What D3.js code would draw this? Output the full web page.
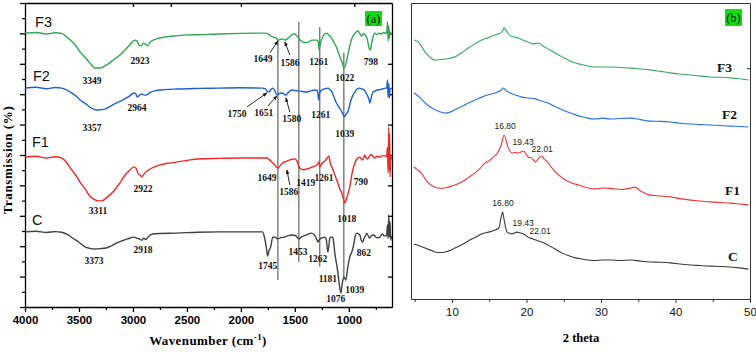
<!DOCTYPE html>
<html><head><meta charset="utf-8">
<script src="https://cdn.jsdelivr.net/npm/d3@7"></script>
<style>body{margin:0;background:#fff} svg{display:block}</style>
</head><body><svg id="c" width="756" height="352"></svg>
<script>
// ---------- FTIR (panel a): [wavenumber cm-1, transmission a.u.] ----------
const ftirF3 = [[4000,90.1],[3900,90.3],[3800,89.8],[3720,90.2],[3660,90.0],[3620,89.0],[3580,87.8],[3530,86.0],[3490,83.9],[3440,82.0],[3400,80.3],[3350,78.6],[3300,78.6],[3260,79.3],[3215,80.3],[3170,81.6],[3120,82.9],[3075,84.5],[3030,86.2],[2985,87.8],[2960,87.5],[2945,86.2],[2925,85.9],[2905,86.8],[2885,86.5],[2865,85.9],[2840,87.2],[2780,88.2],[2700,88.8],[2600,89.2],[2500,89.5],[2350,89.6],[2200,89.8],[2000,90.0],[1800,90.1],[1760,90.0],[1730,89.3],[1700,88.8],[1675,88.5],[1650,87.8],[1620,88.2],[1590,87.8],[1560,88.5],[1530,89.5],[1500,89.8],[1480,89.1],[1460,88.2],[1430,87.2],[1400,87.0],[1370,87.2],[1340,87.8],[1300,87.8],[1285,87.5],[1275,84.5],[1265,86.5],[1250,88.2],[1225,89.8],[1205,90.1],[1185,89.4],[1165,88.8],[1150,87.8],[1135,86.8],[1115,85.5],[1095,83.5],[1075,81.6],[1060,80.3],[1045,78.6],[1030,79.6],[1015,82.0],[1000,84.5],[985,86.8],[970,88.5],[955,89.5],[935,90.3],[915,90.8],[895,89.8],[880,89.1],[865,90.0],[850,89.5],[835,88.8],[820,86.5],[810,85.0],[800,84.5],[790,86.5],[775,89.0],[760,90.1],[740,89.6],[720,90.1],[700,89.8],[680,90.3],[660,90.0],[648,90.5],[642,93.8],[636,87.5],[630,92.5],[624,88.5],[618,90.5],[610,90.0],[602,90.2]];
const ftirF2 = [[4000,72.0],[3900,72.3],[3800,71.8],[3720,72.2],[3660,72.0],[3620,71.5],[3580,70.7],[3530,69.5],[3490,68.1],[3440,66.9],[3400,65.8],[3340,64.8],[3300,64.9],[3260,65.1],[3215,65.9],[3170,66.8],[3120,67.6],[3080,68.4],[3035,69.3],[2990,70.4],[2975,70.2],[2960,69.1],[2940,69.6],[2920,70.1],[2900,69.8],[2880,69.7],[2840,70.6],[2800,71.1],[2700,71.5],[2600,71.7],[2400,71.9],[2200,72.0],[2000,72.1],[1800,72.0],[1775,71.8],[1755,70.9],[1740,70.7],[1720,71.6],[1705,72.0],[1685,71.2],[1667,69.7],[1650,70.1],[1620,70.4],[1600,70.0],[1583,69.7],[1560,70.6],[1530,71.4],[1500,71.2],[1465,71.1],[1430,70.9],[1400,70.7],[1360,71.0],[1320,71.4],[1290,71.2],[1280,68.1],[1270,70.5],[1250,71.4],[1220,71.8],[1195,72.0],[1175,71.5],[1155,70.7],[1135,68.8],[1115,67.1],[1095,66.0],[1075,64.8],[1055,63.5],[1040,62.5],[1025,63.5],[1010,64.1],[995,66.0],[980,68.1],[960,69.8],[944,70.7],[925,71.6],[900,72.0],[880,71.7],[860,71.4],[845,70.8],[830,69.7],[815,68.5],[805,67.1],[795,68.5],[780,70.4],[760,71.0],[735,71.4],[710,71.5],[685,71.8],[660,72.0],[648,72.0],[642,74.7],[636,69.0],[630,73.5],[624,68.8],[618,71.5],[610,72.0],[602,71.8]];
const ftirF1 = [[4000,49.3],[3900,49.6],[3800,49.0],[3720,49.4],[3660,49.0],[3620,47.8],[3580,45.7],[3530,43.4],[3490,41.1],[3440,38.7],[3400,36.5],[3360,35.4],[3320,34.9],[3280,35.0],[3260,35.5],[3215,36.8],[3170,38.5],[3120,40.8],[3080,43.1],[3035,44.8],[2990,46.1],[2970,45.5],[2950,43.8],[2935,43.5],[2920,42.8],[2900,43.6],[2880,44.4],[2840,45.4],[2800,46.1],[2730,46.9],[2650,47.4],[2500,48.2],[2400,48.7],[2200,48.9],[2000,49.0],[1800,49.0],[1760,49.0],[1735,48.4],[1713,47.7],[1690,46.9],[1670,46.0],[1657,45.7],[1635,46.5],[1611,47.4],[1580,47.9],[1546,48.4],[1520,48.6],[1500,48.7],[1480,48.0],[1463,46.1],[1440,45.4],[1426,45.1],[1400,45.3],[1361,45.7],[1330,46.2],[1296,46.7],[1285,47.2],[1278,47.7],[1268,46.1],[1250,47.2],[1222,48.0],[1200,49.0],[1185,49.7],[1170,47.0],[1157,46.1],[1145,45.0],[1130,43.4],[1115,42.0],[1102,40.8],[1085,39.0],[1065,37.5],[1050,35.6],[1037,34.2],[1025,35.2],[1010,37.0],[991,39.5],[975,43.0],[963,45.1],[944,47.4],[925,48.7],[898,49.3],[880,48.6],[870,48.4],[852,50.0],[840,49.0],[825,48.7],[810,49.5],[795,50.2],[780,49.7],[760,49.0],[740,49.6],[713,49.3],[690,49.8],[667,49.7],[650,49.5],[642,52.5],[636,44.0],[630,59.2],[626,45.0],[622,57.0],[618,42.8],[612,50.0],[604,48.5]];
const ftirC = [[4000,24.7],[3900,24.9],[3800,24.5],[3720,24.8],[3660,24.6],[3600,23.7],[3560,22.7],[3500,21.3],[3440,19.7],[3400,19.3],[3360,19.1],[3300,19.2],[3250,19.4],[3200,20.1],[3150,21.1],[3100,21.8],[3050,22.4],[2990,23.0],[2960,22.6],[2940,22.4],[2920,22.0],[2900,22.6],[2880,22.2],[2860,23.0],[2820,24.0],[2750,24.2],[2600,24.3],[2400,24.6],[2200,24.7],[2000,24.7],[1800,24.7],[1780,22.7],[1765,19.7],[1752,16.8],[1740,18.5],[1725,19.7],[1704,23.0],[1680,22.9],[1657,22.4],[1630,22.8],[1600,23.0],[1560,23.5],[1520,23.7],[1490,23.4],[1463,22.4],[1440,23.0],[1415,23.4],[1380,23.9],[1350,24.3],[1320,23.8],[1300,22.5],[1287,21.4],[1270,22.3],[1250,22.7],[1222,23.0],[1208,22.0],[1195,18.1],[1185,20.0],[1176,22.7],[1163,23.0],[1148,23.0],[1138,20.5],[1130,17.8],[1115,14.5],[1102,11.5],[1088,7.5],[1074,4.6],[1060,7.9],[1046,9.9],[1028,8.9],[1009,13.2],[991,16.5],[972,18.1],[955,20.5],[944,22.7],[926,24.3],[898,23.7],[885,22.0],[870,21.4],[860,22.5],[852,23.0],[833,24.3],[815,23.0],[806,22.7],[790,23.5],[770,23.7],[750,23.0],[730,22.8],[713,23.0],[690,24.0],[670,23.4],[650,23.5],[642,27.0],[636,22.5],[630,30.3],[624,23.0],[618,28.0],[612,22.0],[604,23.5]];

const ftirTicks = [4000,3500,3000,2500,2000,1500,1000];
const ftirMinorTicks = [3750,3250,2750,2250,1750,1250,750];
const ftirTopTicks = [3000,2650,2000,950];
// reference lines [wavenumber, from, to]
const ftirRefLines = [[1657,87.8,8.9],[1463,93.8,14.8],[1269,92.1,13.2],[1046,83.6,9.2]];
// peak labels [text, wavenumber, transmission]
const ftirPeakLabels = [
 ["3349",3380,73.4],["2923",2935,79.9],["1649",1796,80.6],["1586",1546,79.3],["1261",1278,79.6],["1022",1037,74.3],["798",796,79.6],
 ["3357",3380,57.9],["2964",2963,64.5],["1750",2037,62.5],["1651",1787,62.8],["1580",1528,60.9],["1261",1259,62.2],["1039",1037,55.9],
 ["3311",3324,30.6],["2922",2907,37.8],["1649",1759,41.4],["1586",1556,36.8],["1419",1400,39.8],["1261",1230,41.4],["790",889,40.1],["1018",1019,28.0],
 ["3373",3361,14.1],["2918",2907,17.8],["1745",1750,12.5],["1453",1472,17.1],["1262",1287,14.8],["1181",1194,8.2],["1076",1120,1.6],["1039",944,4.6],["862",861,16.8]];
// arrows [wn0, t0, wn1, t1]
const ftirArrows = [[1731,83.6,1657,87.5],[1546,82.9,1593,87.2],[1944,65.8,1759,70.4],[1750,66.1,1667,69.4],[1546,64.1,1583,68.8],[1546,40.1,1574,45.1]];
const ftirNames = [["F3",3907,92.1],["F2",3926,74.3],["F1",3935,52.6],["C",3935,27.0]];

// ---------- XRD (panel b): [2 theta, intensity a.u.] ----------
const xrdF3 = [[4.9,87.5],[5.5,86.8],[6.0,85.0],[6.4,83.4],[7.0,81.8],[7.7,80.7],[8.4,80.9],[9.1,81.1],[10.4,81.8],[11.3,83.2],[12.2,84.8],[13.1,86.2],[14.0,87.5],[14.9,88.3],[15.8,89.2],[16.3,89.6],[16.7,90.2],[17.0,91.6],[17.3,90.6],[17.8,88.9],[18.4,88.5],[18.9,88.2],[19.5,87.5],[20.2,86.8],[20.9,86.2],[21.6,86.5],[22.2,85.5],[22.9,84.5],[23.8,83.2],[24.8,81.8],[25.7,80.6],[26.6,79.7],[27.4,79.2],[28.2,78.7],[29.2,78.4],[30.2,78.4],[31.3,78.4],[32.6,78.2],[34.0,78.0],[35.3,77.7],[36.6,77.4],[38.0,76.9],[39.3,76.4],[40.6,76.0],[42.0,75.7],[43.3,75.3],[44.7,75.0],[46.0,74.9],[47.4,74.7],[48.6,74.4],[49.8,74.0]];
const xrdF2 = [[4.9,69.6],[5.5,68.5],[6.0,67.2],[6.6,65.8],[7.3,64.5],[8.2,63.4],[9.1,62.8],[9.8,63.2],[10.4,63.9],[11.3,65.0],[12.2,66.2],[13.1,67.2],[14.0,68.2],[14.9,69.0],[15.8,69.6],[16.3,70.1],[16.6,70.6],[16.9,71.3],[17.3,70.3],[17.8,69.6],[18.6,68.8],[19.4,68.2],[20.3,67.9],[21.2,67.6],[22.0,66.9],[22.9,66.2],[23.8,65.0],[24.8,63.9],[25.7,63.0],[26.6,62.2],[27.4,61.6],[28.2,61.1],[29.2,60.8],[30.2,61.1],[31.3,60.8],[32.6,61.0],[34.0,61.1],[35.3,60.6],[36.6,60.1],[38.0,60.0],[39.3,59.8],[40.6,59.4],[42.0,59.1],[43.3,58.9],[44.7,58.8],[46.0,58.6],[47.4,58.4],[48.6,58.3],[49.8,58.1]];
const xrdF1 = [[4.9,44.6],[5.3,43.7],[5.8,42.9],[6.3,41.0],[6.8,39.2],[7.4,38.2],[8.1,37.5],[8.8,37.4],[9.5,37.8],[10.4,38.5],[11.3,39.5],[12.2,41.0],[13.1,42.6],[13.8,44.2],[14.4,45.9],[14.9,46.5],[15.4,47.6],[16.1,49.3],[16.6,52.0],[17.0,55.4],[17.5,51.4],[18.1,49.3],[18.5,49.6],[18.9,49.3],[19.6,50.0],[20.2,48.0],[20.7,47.6],[21.2,46.3],[21.6,47.5],[22.0,48.3],[22.4,47.2],[22.8,46.3],[23.3,44.6],[23.9,42.9],[24.5,41.5],[25.2,40.2],[26.1,39.2],[27.0,38.5],[28.3,37.5],[29.2,37.2],[30.2,37.5],[31.5,37.3],[32.8,37.0],[34.0,37.5],[34.5,37.8],[35.3,36.5],[36.6,35.1],[38.0,34.8],[39.3,34.5],[40.6,33.9],[42.0,33.4],[43.3,33.1],[44.7,32.8],[46.0,32.6],[47.4,32.4],[48.6,32.1],[49.8,31.8]];
const xrdC = [[4.9,18.6],[5.6,18.0],[6.4,17.2],[7.0,16.6],[7.7,15.9],[8.4,15.7],[9.1,15.9],[9.8,16.5],[10.4,17.2],[11.3,18.3],[12.2,19.6],[13.1,20.8],[14.0,22.0],[14.9,22.6],[15.8,23.3],[16.3,24.0],[16.6,27.7],[16.8,29.4],[17.0,26.7],[17.4,22.6],[18.1,22.0],[18.7,22.6],[19.2,22.3],[19.7,21.9],[20.2,20.9],[20.9,20.3],[21.6,19.6],[22.3,19.0],[22.9,18.2],[23.9,16.8],[24.8,15.5],[25.7,14.6],[26.6,13.9],[27.4,13.5],[28.2,13.2],[29.2,13.0],[30.2,13.2],[31.3,13.2],[32.6,13.0],[34.0,13.2],[35.3,12.8],[36.6,12.5],[38.0,12.4],[39.3,12.2],[40.6,11.8],[42.0,11.5],[43.3,11.3],[44.7,11.1],[46.0,11.0],[47.4,10.8],[48.6,10.5],[49.8,10.1]];
const xrdTicks = [10,20,30,40,50];
const xrdMinorTicks = [5,15,25,35,45];
const xrdPeakLabels = [["16.80",17.13,57.4],["19.43",19.55,52.0],["22.01",22.11,49.7],["16.80",16.85,31.4],["19.43",19.55,24.7],["22.01",21.84,22.0]];
const xrdNames = [["F3",45.57,76.7],["F2",46.24,60.8],["F1",46.65,35.1],["C",47.05,12.8]];

const seriesColorsA = ["#2fa84f","#1f5fd8","#f02828","#404040"];
const seriesColorsB = ["#38a862","#2a6fdc","#ee3333","#3a3a3a"];

const svg = d3.select("#c");
const serif = "'Liberation Serif','Times New Roman',serif";
const sans = "'Liberation Sans',Arial,sans-serif";

svg.append("defs").append("marker").attr("id","arr").attr("viewBox","0 0 10 10")
  .attr("refX",9).attr("refY",5).attr("markerWidth",5).attr("markerHeight",5).attr("orient","auto")
  .append("path").attr("d","M0,1 L10,5 L0,9 z").attr("fill","#111");

// ===== Panel a =====
const xa = d3.scaleLinear().domain([4000,600]).range([25,392]);
const ya = d3.scaleLinear().domain([0,100]).range([307,3]);
const ga = svg.append("g");

function styleAxis(g, w, col){ g.selectAll("path,line").attr("stroke",col).attr("stroke-width",w); }

const aBot = ga.append("g").attr("transform","translate(0,307)")
  .call(d3.axisBottom(xa).tickValues(ftirTicks).tickFormat(d3.format("d")).tickSize(5).tickSizeOuter(0).tickPadding(4));
aBot.selectAll("text").attr("font-family",sans).attr("font-weight","bold").attr("font-size",11.5).attr("fill","#000");
styleAxis(aBot,1.3,"#000");
const aBotM = ga.append("g").attr("transform","translate(0,307)")
  .call(d3.axisBottom(xa).tickValues(ftirMinorTicks).tickSize(3).tickFormat(""));
aBotM.select(".domain").remove(); styleAxis(aBotM,1.2,"#000");
const aTop = ga.append("g").attr("transform","translate(0,3)")
  .call(d3.axisBottom(xa).tickValues(ftirTopTicks).tickSize(4).tickSizeOuter(0).tickFormat(""));
styleAxis(aTop,1.3,"#000");
const aLeft = ga.append("g").attr("transform","translate(25,0)")
  .call(d3.axisLeft(ya).tickValues(d3.range(0,101,10)).tickSize(5).tickSizeOuter(0).tickFormat(""));
styleAxis(aLeft,1.3,"#000");
const aLeftM = ga.append("g").attr("transform","translate(25,0)")
  .call(d3.axisLeft(ya).tickValues(d3.range(5,100,10)).tickSize(3).tickFormat(""));
aLeftM.select(".domain").remove(); styleAxis(aLeftM,1.2,"#000");
const aRight = ga.append("g").attr("transform","translate(392,0)")
  .call(d3.axisLeft(ya).tickValues(d3.range(10,100,10)).tickSize(4).tickSizeOuter(0).tickFormat(""));
styleAxis(aRight,1.3,"#000");

ga.selectAll(".ref").data(ftirRefLines).join("line")
  .attr("x1",d=>xa(d[0])).attr("x2",d=>xa(d[0])).attr("y1",d=>ya(d[1])).attr("y2",d=>ya(d[2]))
  .attr("stroke","#555").attr("stroke-width",1.1);

const lineA = d3.line().x(d=>xa(d[0])).y(d=>ya(d[1])).curve(d3.curveMonotoneX);
[ftirF3,ftirF2,ftirF1,ftirC].forEach((s,i)=>{
  ga.append("path").datum(s).attr("d",lineA).attr("fill","none")
    .attr("stroke",seriesColorsA[i]).attr("stroke-width",1.4).attr("stroke-linejoin","round");
});

ga.selectAll(".pl").data(ftirPeakLabels).join("text")
  .attr("x",d=>xa(d[1])).attr("y",d=>ya(d[2])).attr("text-anchor","middle")
  .attr("font-family",serif).attr("font-weight","bold").attr("font-size",9.5).attr("fill","#111").text(d=>d[0]);
ga.selectAll(".ar").data(ftirArrows).join("line")
  .attr("x1",d=>xa(d[0])).attr("y1",d=>ya(d[1])).attr("x2",d=>xa(d[2])).attr("y2",d=>ya(d[3]))
  .attr("stroke","#111").attr("stroke-width",0.9).attr("marker-end","url(#arr)");
ga.selectAll(".nm").data(ftirNames).join("text")
  .attr("x",d=>xa(d[1])).attr("y",d=>ya(d[2])).attr("font-family",sans).attr("font-size",14.5).attr("fill","#111").text(d=>d[0]);

ga.append("rect").attr("x",365).attr("y",11).attr("width",17).attr("height",15).attr("fill","#11dd11");
ga.append("text").attr("x",373.5).attr("y",23).attr("text-anchor","middle").attr("font-family",serif).attr("font-size",12.5).text("(a)");

ga.append("text").attr("transform","translate(12,160) rotate(-90)").attr("text-anchor","middle")
  .attr("font-family",serif).attr("font-weight","bold").attr("font-size",13).attr("letter-spacing",0.6).text("Transmission (%)");
const xl = ga.append("text").attr("x",208).attr("y",345).attr("text-anchor","middle")
  .attr("font-family",serif).attr("font-weight","bold").attr("font-size",13).attr("letter-spacing",0.4);
xl.append("tspan").text("Wavenumber (cm");
xl.append("tspan").attr("font-size",9).attr("dy",-5).text("-1");
xl.append("tspan").attr("dy",5).text(")");

// ===== Panel b =====
const xb = d3.scaleLinear().domain([4.5,50]).range([411,750]);
const yb = d3.scaleLinear().domain([0,100]).range([299,3]);
const gb = svg.append("g");
const bBot = gb.append("g").attr("transform","translate(0,299)")
  .call(d3.axisBottom(xb).tickValues(xrdTicks).tickSize(4).tickSizeOuter(0).tickPadding(5));
bBot.selectAll("text").attr("font-family",sans).attr("font-size",11.5).attr("fill","#111");
styleAxis(bBot,1,"#333");
const bBotM = gb.append("g").attr("transform","translate(0,299)")
  .call(d3.axisBottom(xb).tickValues(xrdMinorTicks).tickSize(3).tickFormat(""));
bBotM.select(".domain").remove(); styleAxis(bBotM,1,"#333");
const bTop = gb.append("g").attr("transform","translate(0,3)")
  .call(d3.axisTop(xb).tickValues([]).tickSizeOuter(0));
styleAxis(bTop,1,"#333");
const bLeft = gb.append("g").attr("transform","translate(411,0)")
  .call(d3.axisLeft(yb).tickValues([]).tickSizeOuter(0));
styleAxis(bLeft,1,"#333");
const bRight = gb.append("g").attr("transform","translate(750,0)")
  .call(d3.axisLeft(yb).tickValues([78]).tickSize(3).tickSizeOuter(0).tickFormat(""));
styleAxis(bRight,1,"#333");

const lineB = d3.line().x(d=>xb(d[0])).y(d=>yb(d[1])).curve(d3.curveMonotoneX);
[xrdF3,xrdF2,xrdF1,xrdC].forEach((s,i)=>{
  gb.append("path").datum(s).attr("d",lineB).attr("fill","none")
    .attr("stroke",seriesColorsB[i]).attr("stroke-width",1.1).attr("stroke-linejoin","round");
});
gb.selectAll(".xp").data(xrdPeakLabels).join("text")
  .attr("x",d=>xb(d[1])).attr("y",d=>yb(d[2])).attr("text-anchor","middle")
  .attr("font-family",sans).attr("font-size",8.5).attr("fill","#222").text(d=>d[0]);
gb.selectAll(".xn").data(xrdNames).join("text")
  .attr("x",d=>xb(d[1])).attr("y",d=>yb(d[2])).attr("font-family",serif).attr("font-weight","bold")
  .attr("font-size",13.5).attr("fill","#111").text(d=>d[0]);
gb.append("rect").attr("x",725).attr("y",9).attr("width",17).attr("height",17).attr("fill","#11dd11");
gb.append("text").attr("x",733.5).attr("y",22).attr("text-anchor","middle").attr("font-family",serif).attr("font-size",12.5).text("(b)");
gb.append("text").attr("x",581).attr("y",342).attr("text-anchor","middle")
  .attr("font-family",serif).attr("font-weight","bold").attr("font-size",12.5).text("2 theta");
</script></body></html>
